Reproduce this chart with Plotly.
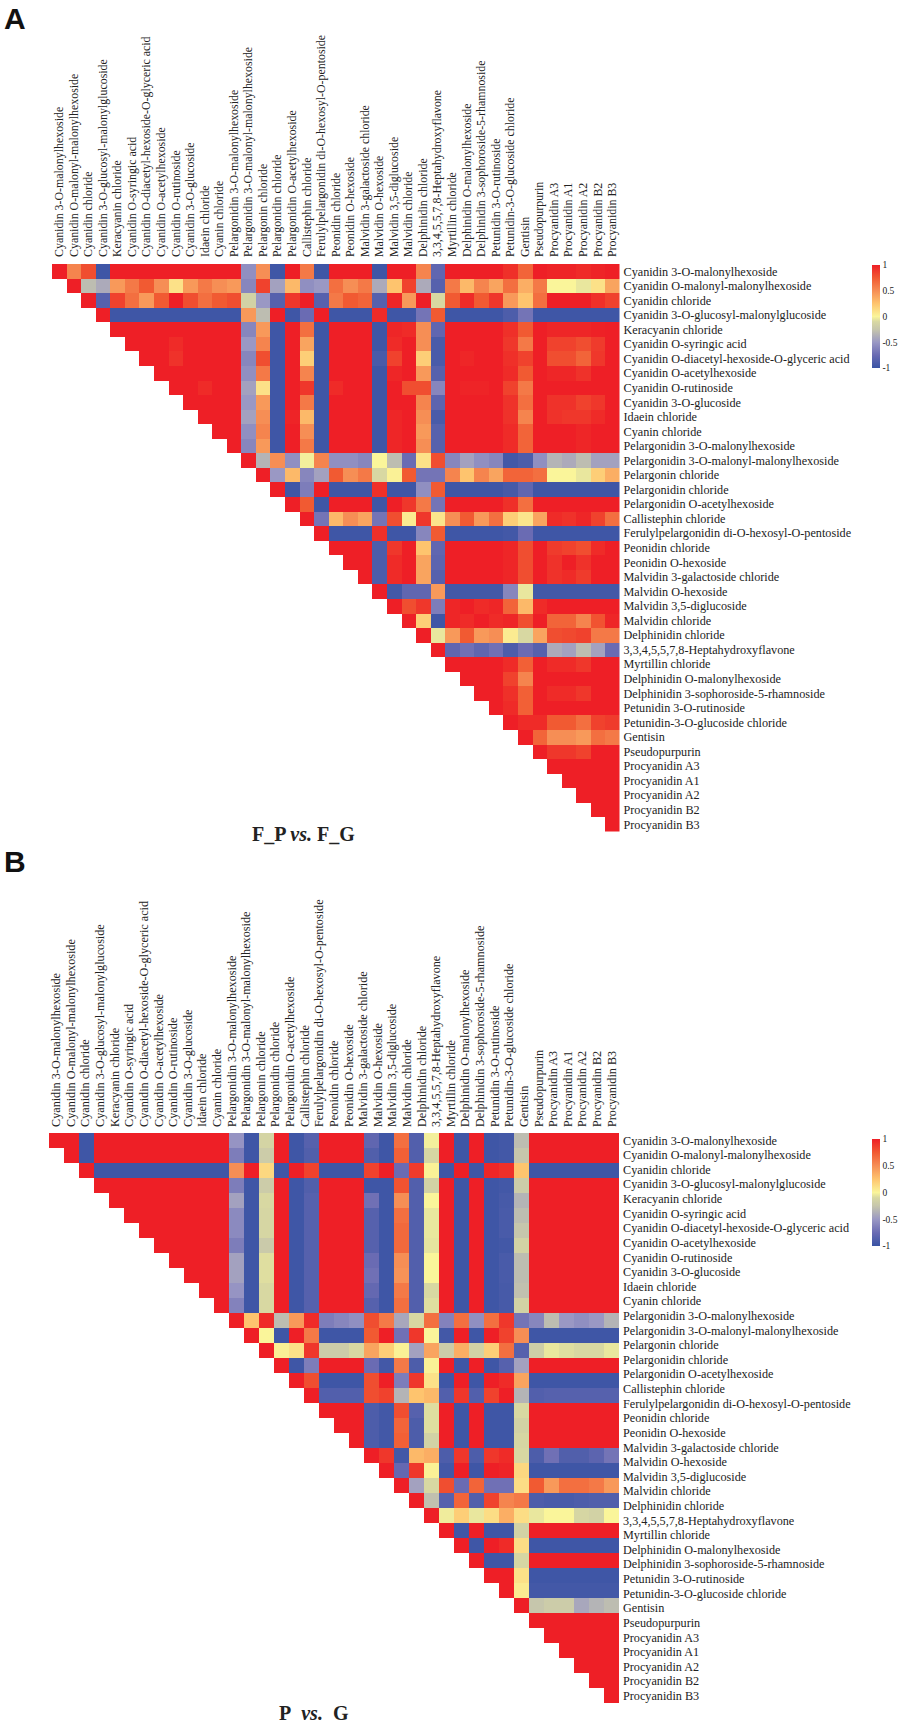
import plotly.graph_objects as go

labels = ["Cyanidin 3-O-malonylhexoside","Cyanidin O-malonyl-malonylhexoside","Cyanidin chloride",
"Cyanidin 3-O-glucosyl-malonylglucoside","Keracyanin chloride","Cyanidin O-syringic acid",
"Cyanidin O-diacetyl-hexoside-O-glyceric acid","Cyanidin O-acetylhexoside","Cyanidin O-rutinoside",
"Cyanidin 3-O-glucoside","Idaein chloride","Cyanin chloride","Pelargonidin 3-O-malonylhexoside",
"Pelargonidin 3-O-malonyl-malonylhexoside","Pelargonin chloride","Pelargonidin chloride",
"Pelargonidin O-acetylhexoside","Callistephin chloride","Ferulylpelargonidin di-O-hexosyl-O-pentoside",
"Peonidin chloride","Peonidin O-hexoside","Malvidin 3-galactoside chloride","Malvidin O-hexoside",
"Malvidin 3,5-diglucoside","Malvidin chloride","Delphinidin chloride","3,3,4,5,5,7,8-Heptahydroxyflavone",
"Myrtillin chloride","Delphinidin O-malonylhexoside","Delphinidin 3-sophoroside-5-rhamnoside",
"Petunidin 3-O-rutinoside","Petunidin-3-O-glucoside chloride","Gentisin","Pseudopurpurin",
"Procyanidin A3","Procyanidin A1","Procyanidin A2","Procyanidin B2","Procyanidin B3"]

rows_a = [
[1,.55,.8,-.97,1,1,1,1,1,1,1,1,1,-.55,.5,-.97,1,.6,-.97,1,1,1,-.97,1,1,.55,-.8,1,1,1,1,.93,.7,1,.98,.98,.95,.98,1],
[1,-.3,-.4,.45,.6,.75,.5,.1,.45,.6,.5,.45,-.6,.85,-.45,.3,-.55,-.5,.65,.5,.6,-.4,.25,.85,-.4,-.85,.6,.3,.55,.4,.65,.35,.6,0,0,-.05,.1,.4],
[1,-.85,.85,.65,.45,.75,1,.8,.65,.75,.8,-.15,-.5,-.85,.9,1,-.85,.6,.75,.7,-.85,.97,.45,1,-.1,.75,.95,.75,.9,.45,.25,.65,1,1,1,.93,.85],
[1,-.97,-.97,-.97,-.97,-.97,-.97,-.97,-.97,-.97,.45,-.3,1,-.97,-.75,1,-.97,-.97,-.97,.95,-.97,-.97,-.7,.75,-.97,-.97,-.97,-.97,-.9,-.7,-.97,-.97,-.97,-.97,-.97,-.97],
[1,1,1,1,1,1,1,1,1,-.6,.45,-.97,1,.65,-.97,1,1,1,-.97,.97,.95,.5,-.8,1,1,1,1,.93,.75,1,.97,.97,.97,.99,1],
[1,1,1,.95,1,1,1,1,-.5,.55,-.97,1,.4,-.97,1,1,1,-.97,.95,1,.5,-.92,1,1,1,1,.9,.6,1,.85,.85,.8,.88,1],
[1,1,.92,1,1,1,1,-.6,.8,-.97,1,.2,-.97,1,1,1,-.92,.85,1,.2,-.92,1,.97,1,1,.93,.85,1,.8,.8,.7,.9,1],
[1,1,1,1,1,1,-.55,.6,-.97,1,.55,-.97,1,1,1,-.97,.97,1,.45,-.85,1,1,1,1,.95,.75,1,.97,.97,.92,1,1],
[1,1,.95,1,1,-.45,.1,-.97,1,.9,-.97,.95,1,1,-.97,1,.8,.8,-.6,1,.98,.98,1,.85,.6,1,1,1,1,1,1],
[1,1,1,1,-.5,.45,-.97,1,.6,-.97,1,1,1,-.97,1,1,.55,-.82,1,1,1,1,.92,.65,1,.92,.92,.85,.9,1],
[1,1,1,-.45,.5,-.97,.98,.3,-.97,1,1,1,-.97,.97,1,.5,-.92,1,1,1,1,.92,.55,1,.92,.9,.9,.95,1],
[1,1,-.55,.55,-.97,1,.5,-.97,1,1,1,-.97,.97,1,.45,-.85,1,1,1,1,.95,.7,1,1,1,.97,1,1],
[1,-.6,.45,-.97,1,.6,-.97,1,1,1,-.97,.97,1,.5,-.85,1,1,1,1,.95,.7,1,1,1,.97,1,1],
[1,-.35,.5,-.55,-.02,.55,-.55,-.55,-.6,0,-.3,-.75,.1,.8,-.6,-.45,-.55,-.6,-.95,-.9,-.55,-.35,-.4,-.3,-.45,-.45],
[1,-.5,.3,-.6,-.45,.75,.5,.6,-.1,.02,.75,-.7,-.7,.55,.25,.55,.4,.7,.7,.65,0,0,-.05,.2,.35],
[1,-.97,-.65,1,-.97,-.97,-.97,.93,-.97,-.97,-.55,.75,-.97,-.97,-.97,-.97,-.93,-.8,-.97,-.97,-.97,-.97,-.97,-.97],
[1,.75,-.97,1,1,1,-.97,1,.9,.6,-.7,1,1,1,1,.93,.65,1,1,1,1,1,1],
[1,-.7,.3,.5,.4,-.7,.8,.05,.9,.08,.5,.75,.45,.65,.2,.08,.4,.95,.92,.97,.85,.65],
[1,-.97,-.97,-.97,.93,-.97,-.97,-.6,.75,-.97,-.97,-.97,-.97,-.95,-.75,-.97,-.97,-.97,-.97,-.97,-.97],
[1,1,1,-.9,.9,1,.25,-.8,1,1,1,1,.97,.8,1,.88,.85,.8,.95,1],
[1,1,-.9,.95,1,.4,-.82,1,1,1,1,.97,.8,1,.92,1,.92,1,1],
[1,-.9,.95,1,.4,-.85,1,1,1,1,.97,.8,1,.92,.95,.88,1,1],
[1,-.95,-.8,-.8,.45,-.95,-.95,-.95,-.95,-.6,-.05,-.95,-.95,-.95,-.95,-.95,-.95],
[1,.8,.9,-.65,.97,1,.95,.97,.7,.3,.95,1,1,1,1,1],
[1,.2,-.97,.97,.95,1,.95,.97,.8,1,.7,.7,.55,.78,.97],
[1,-.05,.45,.75,.45,.5,.05,-.1,.4,.8,.82,.85,.6,.6],
[1,-.8,-.72,-.8,-.72,-.9,-.75,-.85,-.4,-.45,-.3,-.45,-.75],
[1,1,1,1,.95,.72,1,.95,.95,.9,1,1],
[1,1,1,.85,.55,1,1,1,1,1,1],
[1,1,.93,.72,1,.95,.95,.9,1,1],
[1,.95,.72,1,1,1,1,1,1],
[1,.95,.95,.75,.75,.65,.85,.88],
[1,.7,.5,.5,.45,.65,.6],
[1,.9,.9,.85,1,1],
[1,1,1,1,1],
[1,1,1,1],
[1,1,1],
[1,1],
[1],
]

rows_b = [
[1,1,-.97,1,1,1,1,1,1,1,1,1,-.52,-.97,-.13,1,-.97,-.85,1,1,1,-.8,-.97,.65,-.87,-.02,1,-.97,1,-.97,-.95,-.3,1,1,1,1,1,1],
[1,-.97,1,1,1,1,1,1,1,1,1,-.65,-.97,-.2,1,-.97,-.88,1,1,1,-.88,-.97,.72,-.87,-.12,1,-.97,1,-.97,-.95,-.25,1,1,1,1,1,1],
[1,-.97,-.97,-.97,-.97,-.97,-.97,-.97,-.97,-.97,.5,1,.15,-.97,1,.85,-.97,-.97,-.97,.85,1,-.75,.88,.02,-.97,1,-.97,.97,.93,.25,-.97,-.97,-.97,-.97,-.97,-.97],
[1,1,1,1,1,1,1,1,1,-.65,-.97,-.2,1,-.97,-.88,1,1,1,-.97,-.97,.78,-.87,-.15,1,-.97,1,-.97,-.95,-.2,1,1,1,1,1,1],
[1,1,1,1,1,1,1,1,-.45,-.97,-.1,1,-.97,-.85,1,1,1,-.72,-.97,.5,-.87,0,1,-.97,1,-.97,-.93,-.35,1,1,1,1,1,1],
[1,1,1,1,1,1,1,-.58,-.97,-.12,1,-.97,-.85,1,1,1,-.85,-.97,.65,-.87,-.05,1,-.97,1,-.97,-.92,-.3,1,1,1,1,1,1],
[1,1,1,1,1,1,-.58,-.97,-.12,1,-.97,-.85,1,1,1,-.85,-.97,.68,-.87,-.05,1,-.97,1,-.97,-.92,-.25,1,1,1,1,1,1],
[1,1,1,1,1,-.65,-.97,-.22,1,-.97,-.85,1,1,1,-.85,-.97,.68,-.87,-.06,1,-.97,1,-.97,-.95,-.15,1,1,1,1,1,1],
[1,1,1,1,-.45,-.97,-.08,1,-.97,-.85,1,1,1,-.75,-.97,.5,-.87,0,1,-.97,1,-.97,-.92,-.3,1,1,1,1,1,1],
[1,1,1,-.45,-.97,-.08,1,-.97,-.85,1,1,1,-.72,-.97,.48,-.87,0,1,-.97,1,-.97,-.92,-.3,1,1,1,1,1,1],
[1,1,-.52,-.97,-.1,1,-.97,-.85,1,1,1,-.78,-.97,.6,-.87,-.1,1,-.97,1,-.97,-.93,-.28,1,1,1,1,1,1],
[1,-.62,-.97,-.1,1,-.97,-.85,1,1,1,-.85,-.97,.65,-.87,-.08,1,-.97,1,-.97,-.93,-.15,1,1,1,1,1,1],
[1,.25,.95,-.3,.45,.95,-.65,-.6,-.55,.8,.6,-.42,-.1,.65,-.62,.65,-.55,.65,.9,-.7,-.6,-.3,-.5,-.55,-.5,-.35],
[1,0,-.97,1,.6,-.97,-.97,-.97,.75,1,-.72,.9,0,-.95,1,-.97,1,.85,.5,-.97,-.97,-.97,-.97,-.97,-.97],
[1,.03,.1,.9,-.2,-.2,-.1,.4,.2,.02,-.45,.4,-.2,.35,-.15,.2,.65,-.85,-.18,-.05,-.08,-.1,-.1,-.05],
[1,-.97,-.65,1,1,1,-.75,-.95,.6,-.9,.02,1,-.97,1,-.97,-.85,-.45,1,1,1,1,1,1],
[1,.8,-.97,-.97,-.97,.8,1,-.65,.9,.1,-.97,1,-.97,1,.95,.4,-.97,-.97,-.97,-.97,-.97,-.97],
[1,-.87,-.87,-.87,.8,.85,-.35,.25,.3,-.87,.9,-.87,.85,1,-.35,-.87,-.85,-.85,-.85,-.85,-.85],
[1,1,1,-.9,-.95,.8,-.85,-.08,1,-.97,1,-.97,-.97,-.1,1,1,1,1,1,1],
[1,1,-.9,-.95,.7,-.9,-.08,1,-.97,1,-.97,-.97,-.15,1,1,1,1,1,1],
[1,-.9,-.95,.72,-.9,-.15,1,-.97,1,-.97,-.97,-.12,1,1,1,1,1,1],
[1,.9,-.95,.3,.35,-.9,.9,-.9,.9,.95,-.1,-.9,-.72,-.88,-.88,-.82,-.7],
[1,-.78,.9,.02,-.95,1,-.97,1,.98,.15,-.97,-.97,-.97,-.97,-.97,-.97],
[1,-.45,-.1,.8,-.75,.7,-.72,-.72,.12,.75,.45,.65,.65,.6,.45],
[1,-.28,-.85,.7,-.88,.85,.55,.6,-.9,-.92,-.92,-.9,-.88,-.88],
[1,-.03,.2,-.05,.12,.35,.12,-.05,0,0,-.12,-.15,0],
[1,-.97,1,-.97,-.97,-.15,1,1,1,1,1,1],
[1,-.97,1,.95,.12,-.97,-.97,-.97,-.97,-.97,-.97],
[1,-.97,-.97,-.12,1,1,1,1,1,1],
[1,1,.1,-.97,-.97,-.97,-.97,-.97,-.97],
[1,.05,-.95,-.95,-.95,-.95,-.95,-.95],
[1,-.25,-.2,-.2,-.42,-.35,-.3],
[1,1,1,1,1,1],
[1,1,1,1,1],
[1,1,1,1],
[1,1,1],
[1,1],
[1],
]

colorbar_ticks = [-1, -0.5, 0, 0.5, 1]
colorscale = [[0, "#3953a4"], [.125, "#6a6bb3"], [.25, "#9a98c4"], [.375, "#c6c6ac"], [.45, "#d8d8a2"], [.5, "#faf59a"],
              [.625, "#fec46e"], [.75, "#f68e55"], [.875, "#f15a32"], [1, "#ee1f26"]]

W, H = 899, 1727
SERIF = "Liberation Serif"


def tri(rows):
    n = len(rows)
    out = []
    for i, r in enumerate(rows):
        if len(r) != n - i:
            raise ValueError(f"row {i} has {len(r)} expected {n-i}")
        out.append([None] * i + r)
    return out


def pdx(px):
    return px / W


def pdy(py):
    return 1 - py / H


fig = go.Figure()
panels = [
    (rows_a, "", 52, 619.5, 264, 831.5, 265, 368, 11.9, 6),
    (rows_b, "2", 49, 619, 1133, 1703, 1139, 1246, 12.2, 5),
]
for rows, suf, x0, x1, y0, y1, cb0, cb1, top_size, top_off in panels:
    z = tri(rows)
    n = len(rows)
    pos = [(i + .5) * n / len(labels) - .5 for i in range(len(labels))]
    fig.add_trace(go.Heatmap(
        z=z, xaxis="x" + suf, yaxis="y" + suf, zmin=-1, zmax=1, colorscale=colorscale,
        hoverongaps=False,
        colorbar=dict(x=pdx(872), xanchor="left", thickness=8, thicknessmode="pixels",
                      len=cb1 - cb0, lenmode="pixels", y=pdy((cb0 + cb1) / 2), yanchor="middle",
                      tickvals=colorbar_ticks, ticktext=["-1", "-0.5", "0", "0.5", "1"], ticks="",
                      outlinewidth=0, xpad=0, ypad=0, tickfont=dict(family=SERIF, size=9.5, color="#222"))))
    axis = dict(showgrid=False, zeroline=False, showline=False, ticks="", tickmode="array",
                tickvals=pos, ticktext=labels)
    fig.layout["xaxis" + suf] = dict(axis, domain=[pdx(x0), pdx(x1)], range=[-.5, n - .5], side="top",
                                     tickangle=-90, anchor="y" + suf, ticklabelstandoff=top_off,
                                     tickfont=dict(family=SERIF, size=top_size, color="#222"))
    fig.layout["yaxis" + suf] = dict(axis, domain=[pdy(y1), pdy(y0)], range=[n - .5, -.5], side="right",
                                     anchor="x" + suf, ticklabelstandoff=3,
                                     tickfont=dict(family=SERIF, size=12.2, color="#222"))

ann = [
    dict(text="<b>A</b>", x=pdx(2), y=pdy(19), font=dict(family="Liberation Sans", size=30, color="#111"), xanchor="left"),
    dict(text="<b>B</b>", x=pdx(2), y=pdy(861), font=dict(family="Liberation Sans", size=30, color="#111"), xanchor="left"),
    dict(text="<b>F_P <i>vs.</i> F_G</b>", x=pdx(303), y=pdy(834), font=dict(family=SERIF, size=20, color="#222")),
    dict(text="<b>P&nbsp; <i>vs.</i> &nbsp;G</b>", x=pdx(314), y=pdy(1713), font=dict(family=SERIF, size=20, color="#222")),
]
for a in ann:
    a.update(xref="paper", yref="paper", showarrow=False, yanchor="middle")
    a.setdefault("xanchor", "center")

fig.update_layout(width=W, height=H, autosize=False, margin=dict(l=0, r=0, t=0, b=0),
                  paper_bgcolor="white", plot_bgcolor="white", annotations=ann)
fig.write_html("out.html", config={"displayModeBar": False},
               post_script="document.body.style.margin='0';document.body.style.overflow='hidden';")
